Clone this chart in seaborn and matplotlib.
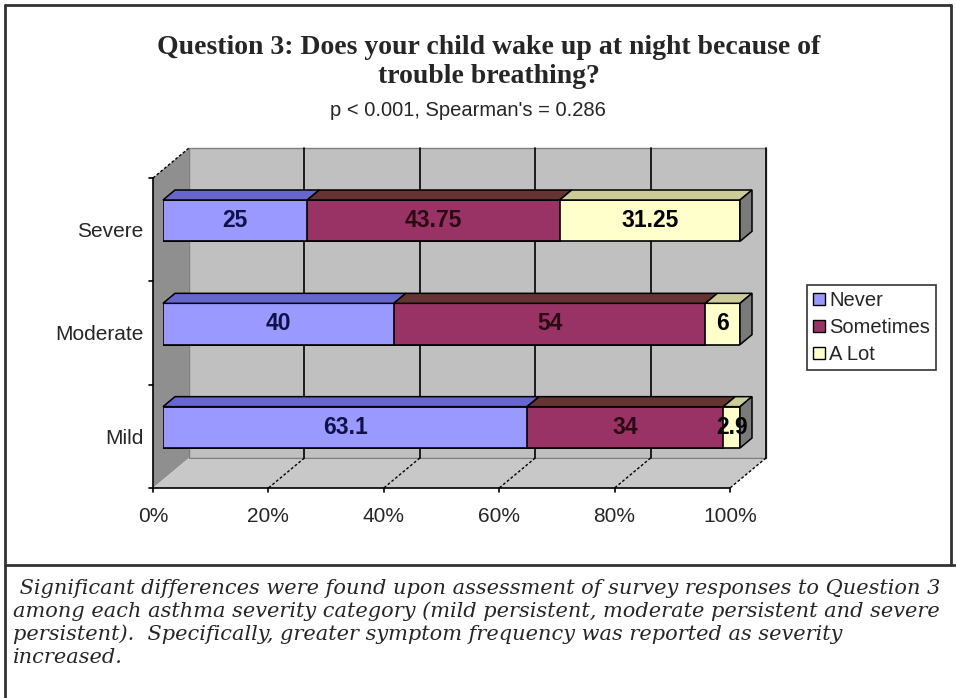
import matplotlib
matplotlib.use("Agg")
import matplotlib.pyplot as plt
import matplotlib.transforms as mtransforms
from matplotlib.patches import Polygon, Patch
from matplotlib import font_manager
import pandas as pd
import seaborn as sns

# -----------------------------
# DATA
# -----------------------------
severity = ["Severe", "Moderate", "Mild"]
never = [25, 40, 63.1]
sometimes = [43.75, 54, 34]
a_lot = [31.25, 6, 2.9]
never_txt = ["25", "40", "63.1"]
sometimes_txt = ["43.75", "54", "34"]
a_lot_txt = ["31.25", "6", "2.9"]
series_names = ["Never", "Sometimes", "A Lot"]
x_ticks = [0, 20, 40, 60, 80, 100]
x_tick_labels = ["0%", "20%", "40%", "60%", "80%", "100%"]

title = "Question 3: Does your child wake up at night because of\ntrouble breathing?"
subtitle = "p < 0.001, Spearman's = 0.286"
caption = (" Significant differences were found upon assessment of survey responses to Question 3\n"
           "among each asthma severity category (mild persistent, moderate persistent and severe\n"
           "persistent).  Specifically, greater symptom frequency was reported as severity\n"
           "increased.")

face_cols = ["#9999FF", "#993366", "#FFFFCC"]
top_cols = ["#6666CC", "#663333", "#CCCC99"]
label_cols = ["#10104a", "#2b0a14", "black"]

df = pd.DataFrame({"severity": severity, "Never": never,
                   "Sometimes": sometimes, "A Lot": a_lot})
df["c1"] = df["Never"]
df["c2"] = df["c1"] + df["Sometimes"]
df["c3"] = df["c2"] + df["A Lot"]

sns.set_style("white")
names = {f.name for f in font_manager.fontManager.ttflist}
narrow = "Liberation Sans Narrow" if "Liberation Sans Narrow" in names else "Liberation Sans"
plt.rcParams["font.family"] = ["Liberation Sans", "DejaVu Sans"]

W, H = 956, 698
fig = plt.figure(figsize=(W / 100, H / 100), dpi=100)

# frame (pixel coords)
fr = fig.add_axes([0, 0, 1, 1], zorder=0)
fr.set_xlim(0, W)
fr.set_ylim(H, 0)
fr.axis("off")
lc = "#333333"
fr.plot([5, 951], [5, 5], color=lc, lw=2)
fr.plot([5, 5], [5, 698], color=lc, lw=2)
fr.plot([951, 951], [5, 565], color=lc, lw=2)
fr.plot([5, 956], [565, 565], color=lc, lw=2)

# main axes = plane of bar fronts
ax = fig.add_axes([163 / W, 1 - 479 / H, 577 / W, 310 / H], zorder=1)
ax.set_facecolor("none")

# -----------------------------
# STACKED BARS (layered cumulative)
# -----------------------------
for col, c in zip(["c3", "c2", "c1"], face_cols[::-1]):
    sns.barplot(data=df, x=col, y="severity", order=severity, orient="h",
                color=c, saturation=1, width=0.4, errorbar=None,
                edgecolor="black", linewidth=1.2, ax=ax, zorder=2)

ax.set_xlim(0, 100)
ax.set_ylim(2.5, -0.5)
ax.set(xlabel="", ylabel="")
for s in ax.spines.values():
    s.set_visible(False)

fig.canvas.draw()

# depth offsets in pixels (x right, y up)
FRONT = (0, 0)
BACK = (12, 10)
FLOOR = (-10, -9)
WALL = (26, 21)


def P(x, y, off):
    px, py = ax.transData.transform((x, y))
    return (px + off[0], py + off[1])


ident = mtransforms.IdentityTransform()


def poly(pts, fc, ec="none", lw=0, z=0.5, ls="-"):
    ax.add_patch(Polygon(pts, closed=True, facecolor=fc, edgecolor=ec, lw=lw,
                         ls=ls, transform=ident, clip_on=False, zorder=z))


def line(p0, p1, z=0.6, ls="-", lw=1.0, c="black"):
    ax.plot([p0[0], p1[0]], [p0[1], p1[1]], color=c, lw=lw, ls=ls,
            transform=ident, clip_on=False, zorder=z)


y_top, y_bot = -0.5, 2.5
# back wall
poly([P(0, y_top, WALL), P(100, y_top, WALL), P(100, y_bot, WALL), P(0, y_bot, WALL)],
     "#C0C0C0", ec="#808080", lw=1, z=0.3)
# left wall
poly([P(0, y_top, FLOOR), P(0, y_top, WALL), P(0, y_bot, WALL), P(0, y_bot, FLOOR)],
     "#8F8F8F", z=0.35)
# floor
poly([P(0, y_bot, FLOOR), P(100, y_bot, FLOOR), P(100, y_bot, WALL), P(0, y_bot, WALL)],
     "#C8C8C8", z=0.35)
line(P(0, y_bot, WALL), P(100, y_bot, WALL), lw=0.8, c="#808080", z=0.4)
line(P(0, y_top, FLOOR), P(0, y_top, WALL), ls=(0, (2, 1.5)), lw=1)

# gridlines on back wall and floor
for t in x_ticks[1:]:
    line(P(t, y_top, WALL), P(t, y_bot, WALL), lw=1.2, z=0.4)
    line(P(t, y_bot, WALL), P(t, y_bot, FLOOR), ls=(0, (2, 1.5)), lw=1, z=0.4)
# axis lines with ticks
line(P(0, y_top, FLOOR), P(0, y_bot, FLOOR), lw=1.2, z=0.7)
line(P(0, y_bot, FLOOR), P(100, y_bot, FLOOR), lw=1.2, z=0.7)
for t in x_ticks:
    p = P(t, y_bot, FLOOR)
    line(p, (p[0], p[1] - 4), lw=1.2, z=0.7)
for yb in [-0.5, 0.5, 1.5, 2.5]:
    p = P(0, yb, FLOOR)
    line(p, (p[0] - 4, p[1]), lw=1.2, z=0.7)

# 3D top faces, right side faces and value labels
half = 0.2
cums = [df["c1"].tolist(), df["c2"].tolist(), df["c3"].tolist()]
txts = [never_txt, sometimes_txt, a_lot_txt]
for i in range(len(severity)):
    start = 0
    for k in range(3):
        end = cums[k][i]
        yt = i - half
        poly([P(start, yt, FRONT), P(end, yt, FRONT), P(end, yt, BACK), P(start, yt, BACK)],
             top_cols[k], ec="black", lw=1.1, z=2.5)
        ax.text((start + end) / 2, i, txts[k][i], ha="center", va="center",
                fontsize=16.5, fontweight="bold",
                family=[narrow, "DejaVu Sans"], color=label_cols[k], zorder=4)
        start = end
    poly([P(start, i - half, FRONT), P(start, i - half, BACK),
          P(start, i + half, BACK), P(start, i + half, FRONT)],
         "#7A7A7A", ec="black", lw=1.1, z=2.5)

# tick labels (floor-front plane)
ax.set_xticks(x_ticks)
ax.set_xticklabels(x_tick_labels, fontsize=15)
ax.set_yticks(range(len(severity)))
ax.set_yticklabels(severity, fontsize=15)
ax.tick_params(axis="x", length=0, pad=14)
ax.tick_params(axis="y", length=0, pad=7)
shift = mtransforms.ScaledTranslation(FLOOR[0] / 100, FLOOR[1] / 100, fig.dpi_scale_trans)
for lab in ax.get_xticklabels() + ax.get_yticklabels():
    lab.set_transform(lab.get_transform() + shift)

# legend
handles = [Patch(facecolor=c, edgecolor="black", lw=1) for c in face_cols]
leg = fig.legend(handles, series_names, loc="upper left",
                 bbox_to_anchor=(807 / W, 1 - 285 / H), frameon=True, fancybox=False,
                 fontsize=14.5, handlelength=0.6, handleheight=0.6, handletextpad=0.2,
                 labelspacing=0.4, borderpad=0.3, borderaxespad=0)
leg.get_frame().set_edgecolor("black")
leg.get_frame().set_linewidth(1.2)

# titles
fr.text(489, 62, title, ha="center", va="center", fontsize=20, fontweight="bold",
        family=["Liberation Serif", "DejaVu Serif"], linespacing=1.25)
fr.text(468, 110, subtitle, ha="center", va="center", fontsize=14.5)

# caption
fr.text(13, 623, caption, ha="left", va="center", fontsize=15.0, style="italic",
        family=["DejaVu Serif"], linespacing=1.22)

fig.savefig("out.png", dpi=100)
